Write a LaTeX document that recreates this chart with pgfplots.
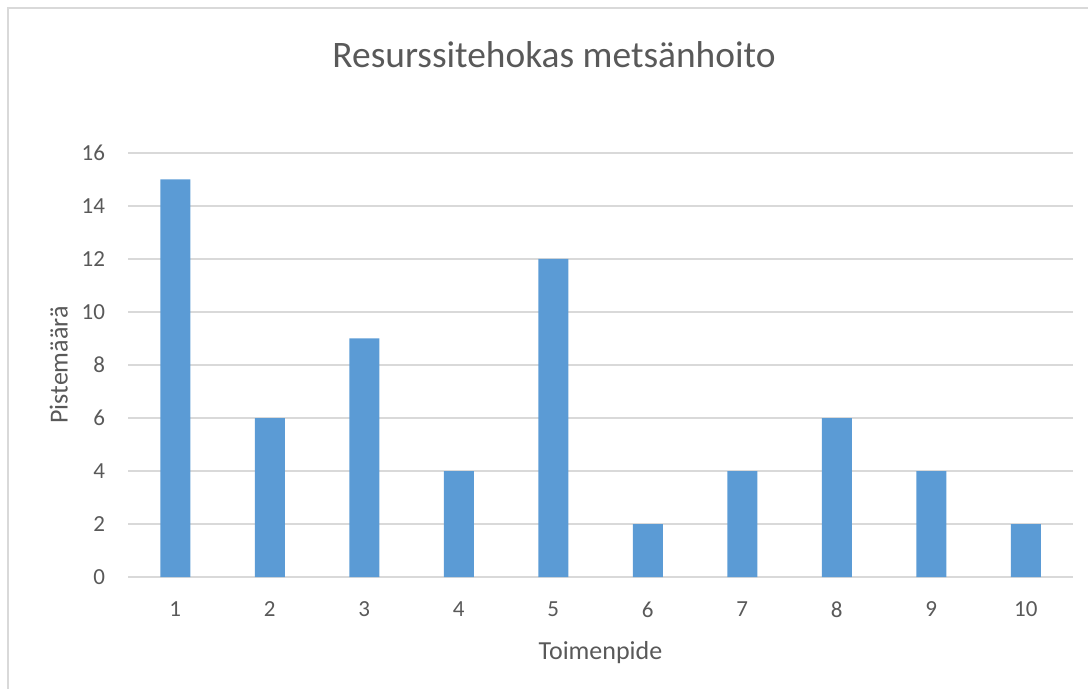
\documentclass[border=0pt]{standalone}
\usepackage{pgfplots}
\pgfplotsset{compat=1.18}
\usepackage{fontspec}
\setmainfont{Carlito}
\definecolor{barblue}{HTML}{5B9BD5}
\definecolor{gridgray}{HTML}{D9D9D9}
\definecolor{txtgray}{HTML}{595959}
\begin{document}
\begin{tikzpicture}[x=1pt,y=1pt]
\useasboundingbox (0,0) rectangle (544,-344.5);
\draw[gridgray, line width=1pt] (3.75,-4) rectangle (560,-360);
\node[txtgray, font=\fontsize{18.7}{22}\selectfont] at (277,-27.5) {Resurssitehokas metsänhoito};
\begin{axis}[
  at={(64pt,-288.5pt)}, anchor=south west,
  scale only axis, width=472.5pt, height=212pt,
  xmin=0.5, xmax=10.5, ymin=0, ymax=16,
  xtick={1,...,10}, ytick={0,2,...,16},
  ymajorgrids, major grid style={gridgray, line width=0.75pt},
  axis x line*=bottom, axis y line*=left,
  x axis line style={gridgray, line width=0.75pt, -},
  y axis line style={draw=none},
  major tick length=0pt,
  tick label style={txtgray, font=\fontsize{11.5}{13}\selectfont},
  /pgf/number format/assume math mode=true,
  xticklabel style={yshift=-9pt},
  yticklabel style={xshift=-8pt},
  xlabel={Toimenpide}, ylabel={Pistemäärä},
  label style={txtgray, font=\fontsize{13}{15}\selectfont},
  xlabel style={yshift=-5pt},
  ylabel style={yshift=0pt},
]
\addplot[ybar, bar width=15pt, fill=barblue, draw=none] coordinates {
(1,15) (2,6) (3,9) (4,4) (5,12) (6,2) (7,4) (8,6) (9,4) (10,2)};
\end{axis}
\end{tikzpicture}
\end{document}
